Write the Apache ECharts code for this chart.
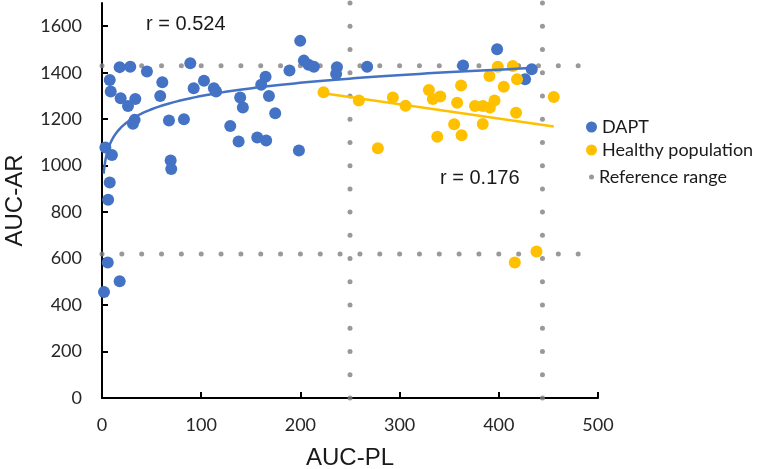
<!DOCTYPE html>
<html>
<head>
<meta charset="utf-8">
<script src="https://cdn.jsdelivr.net/npm/echarts@6/dist/echarts.min.js"></script>
<style>
html,body{margin:0;padding:0;background:#fff;}
#main{width:762px;height:469px;}
</style>
</head>
<body>
<div id="main"></div>
<script>
// DAPT group (AUC-PL, AUC-AR)
var daptX = [17.8, 28.5, 45.3, 89, 7.8, 8.8, 60.8, 58.7, 18.8, 26.2, 33.6, 92.4, 102.8, 112.8, 115,
	32.9, 31.2, 67.5, 82.6, 3.4, 10, 69.2, 69.8, 7.8, 6.2, 5.8, 17.8, 2,
	199.8, 203.5, 208.2, 213.6, 189, 164.9, 160.5, 139.3, 142, 168.3, 174.6, 129.3, 137.7, 156.5, 165.5, 198.5,
	236.8, 236, 267.3, 364, 398.3, 433.2, 426.5];
var daptY = [1424, 1426, 1405, 1441, 1369, 1319, 1359, 1300, 1290, 1257, 1287, 1333, 1365, 1333, 1319,
	1197, 1180, 1194, 1200, 1078, 1046, 1022, 986, 927, 853, 583, 502, 456,
	1537, 1452, 1434, 1426, 1409, 1383, 1348, 1293, 1250, 1300, 1226, 1171, 1104, 1121, 1108, 1065,
	1424, 1394, 1426, 1431, 1501, 1415, 1372];

// Healthy population
var healthyX = [223.3, 258.9, 293.2, 306, 329.5, 333.5, 341, 278.1, 338, 355, 362, 358, 362.5,
	390.6, 399, 414.1, 418.4, 405, 395.7, 376, 384, 391, 417.4, 383.8, 455.4, 416.1, 438];
var healthyY = [1316, 1280, 1293, 1258, 1326, 1287, 1298, 1075, 1124, 1178, 1345, 1271, 1131,
	1386, 1426, 1429, 1372, 1340, 1280, 1257, 1257, 1250, 1228, 1179, 1295, 583, 631];

// trendlines
// DAPT: logarithmic  y = a*ln(x) + b, drawn from xFrom to xTo
var daptTrend = { a: 82, b: 922, xFrom: 1.7, xTo: 433.5 };
// Healthy: linear, end points
var healthyTrendX = [223.3, 455.4];
var healthyTrendY = [1312, 1168];

// reference range dotted lines (drawn as a scatter of small dots, like the source)
var refLowY = 620, refHighY = 1430;
var refLeftX = 250, refRightX = 444;
var refHStep = 20, refHMax = 480;
var refVStep = 100, refVMax = 1700;

var rTexts = ['r = 0.524', 'r = 0.176'];

var blue = '#4472C4', yellow = '#FFC000', gray = '#7F7F7F';

function zip(xs, ys)
{
	var out = [];
	for (var i = 0; i < xs.length; i++) out.push([xs[i], ys[i]]);
	return out;
}

function refData()
{
	var out = [];
	for (var x = 0; x <= refHMax; x += refHStep) {
		out.push([x, refLowY]);
		out.push([x, refHighY]);
	}
	for (var y = 0; y <= refVMax; y += refVStep) {
		out.push([refLeftX, y]);
		out.push([refRightX, y]);
	}
	return out;
}

function logTrend(t)
{
	var pts = [];
	var steps = 200;
	for (var k = 0; k <= steps; k++) {
		var x = t.xFrom * Math.pow(t.xTo / t.xFrom, k / steps);
		pts.push([x, t.a * Math.log(x) + t.b]);
	}
	return pts;
}

var labelFont = 'Lato, "Noto Sans", sans-serif';
var titleFont = '"Liberation Sans", Arial, sans-serif';

var option = {
	animation: false,
	backgroundColor: '#fff',
	grid: { left: 102, right: 164, top: 3, bottom: 71, containLabel: false, outerBoundsMode: 'none' },
	xAxis: {
		type: 'value', min: 0, max: 500, interval: 100,
		name: 'AUC-PL', nameLocation: 'middle', nameGap: 48,
		nameTextStyle: { fontFamily: titleFont, fontSize: 24, color: '#1a1a1a' },
		axisLine: { onZero: false, lineStyle: { color: '#000', width: 2 } },
		axisTick: { inside: true, length: 6, lineStyle: { color: '#000', width: 2 } },
		axisLabel: { margin: 18, fontFamily: labelFont, fontSize: 18, color: '#262626' },
		splitLine: { show: false }
	},
	yAxis: {
		type: 'value', min: 0, max: 1700, interval: 200,
		name: 'AUC-AR', nameLocation: 'middle', nameGap: 75,
		nameTextStyle: { fontFamily: titleFont, fontSize: 24, color: '#1a1a1a' },
		axisLine: { show: true, onZero: false, lineStyle: { color: '#000', width: 2 } },
		axisTick: { show: true, inside: true, length: 6, lineStyle: { color: '#000', width: 2 } },
		axisLabel: {
			margin: 20, fontFamily: labelFont, fontSize: 18, color: '#262626', showMaxLabel: false,
			formatter: function (v) { return String(v); }
		},
		splitLine: { show: false }
	},
	legend: [
		{
			orient: 'vertical', left: 581, top: 113, itemWidth: 11, itemHeight: 11, itemGap: 5, itemTextGap: 7,
			icon: 'circle', data: ['DAPT', 'Healthy population'],
			textStyle: { fontFamily: labelFont, fontSize: 18, color: '#1a1a1a' }
		},
		{
			orient: 'vertical', left: 584, top: 163, itemWidth: 5, itemHeight: 5, itemTextGap: 10,
			icon: 'circle', data: ['Reference range'],
			textStyle: { fontFamily: labelFont, fontSize: 18, color: '#1a1a1a' }
		}
	],
	graphic: [
		{ type: 'text', left: 146, top: 14, style: { text: rTexts[0], font: '20px ' + titleFont, fill: '#1a1a1a' } },
		{ type: 'text', left: 440, top: 168, style: { text: rTexts[1], font: '20px ' + titleFont, fill: '#1a1a1a' } }
	],
	series: [
		{
			name: 'Reference range', type: 'scatter', symbolSize: 5, z: 1,
			itemStyle: { color: gray }, data: refData()
		},
		{
			name: 'DAPT', type: 'scatter', symbolSize: 12, z: 2,
			itemStyle: { color: blue, opacity: 1 }, data: zip(daptX, daptY)
		},
		{
			name: 'Healthy population', type: 'scatter', symbolSize: 12, z: 3,
			itemStyle: { color: yellow, opacity: 1 }, data: zip(healthyX, healthyY)
		},
		{
			name: 'DAPT trend', type: 'line', showSymbol: false, z: 4, silent: true,
			lineStyle: { color: blue, width: 2.5 }, data: logTrend(daptTrend)
		},
		{
			name: 'Healthy trend', type: 'line', showSymbol: false, z: 4, silent: true,
			lineStyle: { color: yellow, width: 2.5 }, data: zip(healthyTrendX, healthyTrendY)
		}
	]
};

var myChart = echarts.init(document.getElementById('main'));
myChart.setOption(option);
</script>
</body>
</html>
